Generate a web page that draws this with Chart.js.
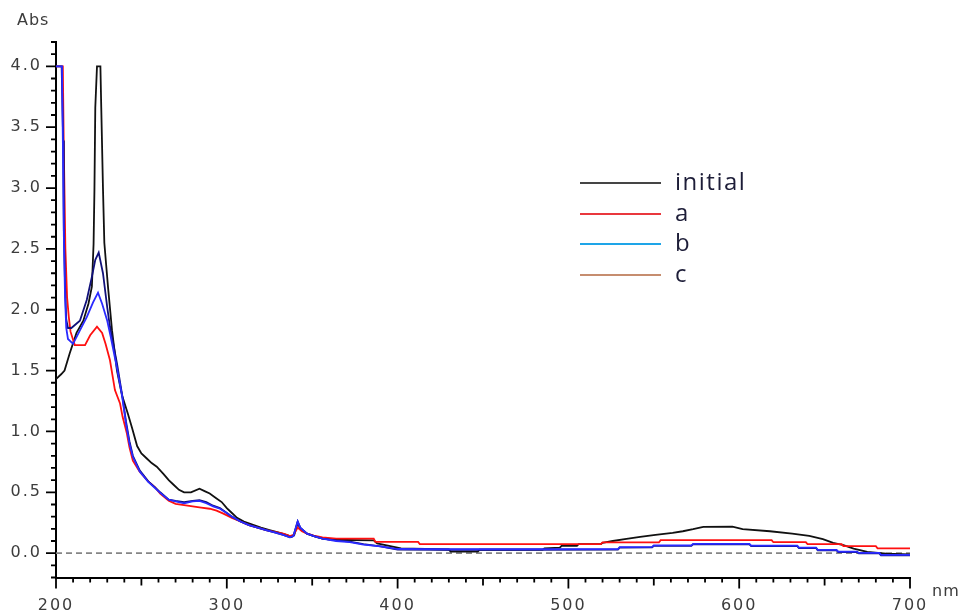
<!DOCTYPE html>
<html>
<head>
<meta charset="utf-8">
<script src="https://cdn.jsdelivr.net/npm/chart.js@4.4.0/dist/chart.umd.min.js"></script>
<style>
  html, body { margin: 0; padding: 0; background: #ffffff; }
  #wrap { width: 959px; height: 615px; position: relative; }
</style>
</head>
<body>
<div id="wrap"><canvas id="spectra" width="959" height="615"></canvas></div>
<script>
// UV-Vis absorbance spectra, [wavelength nm, absorbance]
const seriesNames = ['initial', 'a', 'b', 'c'];

const initialSpectrum = [
  [200,1.43],[203,1.47],[205,1.50],[208,1.64],[212,1.81],[216,1.91],[219,2.05],[221,2.19],
  [222,2.54],[222.5,2.98],[223,3.66],[224,4.0],[226,4.0],[226.5,3.66],[227.5,3.0],[228.3,2.55],
  [229.3,2.38],[230.5,2.18],[232.8,1.83],[235.7,1.50],[238.6,1.30],[242,1.15],[244.5,1.03],
  [247.5,0.88],[250,0.82],[253,0.78],[256,0.74],[259,0.71],[263,0.65],[266,0.60],[269,0.56],
  [272,0.52],[275,0.50],[279,0.50],[284,0.53],[287,0.51],[290,0.49],[294,0.45],[297,0.42],
  [300,0.37],[303,0.33],[306,0.29],[310,0.26],[315,0.235],[320,0.21],[325,0.19],[330,0.17],
  [335,0.15],[338,0.135],[339.5,0.15],[341.5,0.25],[343,0.20],[347,0.16],[351,0.14],[356,0.12],
  [362,0.11],[386,0.105],[388,0.08],[395,0.06],[402,0.04],[430,0.03],[431,0.013],[447,0.013],
  [448,0.028],[485,0.03],[486,0.04],[495,0.045],[496,0.06],[505,0.06],[506,0.074],[519,0.074],
  [520,0.085],[526,0.10],[533,0.115],[542,0.134],[551,0.15],[561,0.167],[567,0.18],[573,0.197],
  [579,0.216],[596,0.218],[602,0.197],[618,0.18],[631,0.16],[641,0.142],[649,0.115],[655,0.085],
  [661,0.066],[667,0.038],[675,0.011],[686,-0.005],[700,-0.01]
];

const spectrumA = [
  [200,4.0],[204,4.0],[204.5,3.39],[205,2.94],[205.5,2.5],[206.5,2.1],[207.5,1.94],[208.5,1.82],
  [211,1.71],[217,1.71],[220,1.79],[224,1.86],[227,1.81],[229,1.72],[231.6,1.585],[234.5,1.34],
  [237.5,1.23],[239,1.12],[241.4,0.99],[243,0.87],[245,0.76],[249,0.67],[254,0.59],[258,0.54],
  [261,0.49],[266,0.43],[270,0.405],[275,0.395],[280,0.385],[285,0.375],[290,0.365],[294,0.35],
  [298,0.325],[303,0.29],[308,0.26],[313,0.23],[318,0.21],[323,0.19],[328,0.175],[333,0.16],
  [337,0.14],[339,0.15],[341.5,0.21],[344,0.18],[347,0.16],[351,0.145],[356,0.13],[364,0.12],
  [386,0.12],[387,0.092],[412,0.092],[413,0.074],[519,0.074],[520,0.088],[553,0.088],[554,0.107],
  [619,0.107],[620,0.09],[639,0.09],[640,0.074],[660,0.074],[661,0.057],[680,0.057],[681,0.04],
  [700,0.04]
];

const spectrumB = [
  [200,4.0],[203.5,4.0],[204,3.4],[204.6,2.6],[205.3,2.1],[206,1.85],[207,1.76],[210,1.72],
  [214,1.83],[218,1.94],[221.7,2.06],[224.6,2.14],[227,2.05],[230,1.91],[232,1.78],[235.7,1.52],
  [238.6,1.30],[241,1.06],[243,0.90],[245,0.79],[249,0.67],[254,0.585],[258,0.535],[261,0.495],
  [266,0.44],[270,0.425],[275,0.41],[280,0.425],[284,0.43],[288,0.41],[292,0.385],[296,0.365],
  [300,0.33],[303,0.30],[308,0.26],[313,0.23],[318,0.21],[323,0.19],[328,0.17],[333,0.15],
  [337,0.13],[339,0.14],[341.5,0.26],[343,0.21],[347,0.16],[351,0.14],[356,0.12],[364,0.10],
  [372,0.09],[380,0.07],[390,0.055],[400,0.034],[430,0.032],[470,0.032],[529,0.034],[530,0.049],
  [549,0.051],[550,0.064],[572,0.064],[573,0.076],[606,0.076],[607,0.062],[634,0.062],[635,0.046],
  [645,0.046],[646,0.027],[657,0.027],[658,0.013],[669,0.013],[670,0.002],[682,0.002],[683,-0.014],
  [700,-0.014]
];

const spectrumC = [
  [200,4.0],[203.3,4.0],[203.8,3.64],[204.2,3.39],[204.6,2.65],[205.3,2.2],[206,1.92],[207,1.85],
  [209,1.85],[214,1.91],[218,2.08],[221,2.27],[223,2.41],[225,2.47],[227.5,2.30],[230,2.02],
  [231.6,1.86],[235.7,1.56],[238.6,1.31],[241,1.08],[243,0.92],[245,0.80],[249,0.68],[254,0.59],
  [258,0.54],[261,0.50],[266,0.44],[270,0.43],[275,0.42],[280,0.43],[284,0.435],[288,0.42],
  [292,0.39],[296,0.37],[300,0.33],[303,0.30],[308,0.26],[313,0.23],[318,0.21],[323,0.19],
  [328,0.17],[333,0.15],[337,0.13],[339,0.14],[341.5,0.26],[343,0.21],[347,0.16],[351,0.14],
  [356,0.12],[364,0.105],[372,0.095],[380,0.075],[390,0.055],[400,0.03],[430,0.028],[470,0.028],
  [529,0.03],[530,0.045],[549,0.047],[550,0.06],[572,0.06],[573,0.072],[606,0.072],[607,0.058],
  [634,0.058],[635,0.042],[645,0.042],[646,0.023],[657,0.023],[658,0.009],[669,0.009],[670,-0.002],
  [682,-0.002],[683,-0.018],[700,-0.018]
];

const xTickLabels = ['200', '300', '400', '500', '600', '700'];
const yTickLabels = ['0.0', '0.5', '1.0', '1.5', '2.0', '2.5', '3.0', '3.5', '4.0'];

// ---- styling ----
const spectra = [initialSpectrum, spectrumA, spectrumB, spectrumC];
const lineColors = ['#111111', '#ff1010', '#2a2aff', '#10107a'];
const drawOrder = [3, 2, 0, 1];
const legendStyle = {
  colors: ['#454545', '#e9383e', '#1ea5e8', '#c68d6f'],
  rows: [183, 214, 244, 275],
  lineFrom: 580, lineTo: 661, textX: 675,
  font: '24px "Open Sans", sans-serif', textColor: '#1d1d38', spacing: '1.5px'
};
const tickFont = { family: 'DejaVu Sans', size: 16 };
const tickColor = '#3c3c3c';
const tickSpacing = '2px';

const toPoints = s => s.map(([x, y]) => ({ x, y }));

// axis titles, minor/major tick marks, zero reference line, legend
const decorations = {
  id: 'decorations',
  beforeDraw(chart) {
    // widen the axis tick labels a little
    chart.ctx.letterSpacing = tickSpacing;
  },
  beforeDatasetsDraw(chart) {
    const { ctx, chartArea, scales: { y } } = chart;
    const y0 = y.getPixelForValue(0);
    ctx.save();
    ctx.strokeStyle = '#858585';
    ctx.lineWidth = 1.8;
    ctx.setLineDash([6, 4]);
    ctx.beginPath();
    ctx.moveTo(chartArea.left, y0);
    ctx.lineTo(chartArea.right, y0);
    ctx.stroke();
    ctx.restore();
  },
  afterDraw(chart) {
    const { ctx, chartArea, scales: { x, y } } = chart;
    ctx.save();
    ctx.strokeStyle = '#000';
    ctx.lineWidth = 1.8;
    ctx.beginPath();
    for (let i = Math.round(y.min * 10); i <= Math.round(y.max * 10); i++) {
      const py = y.getPixelForValue(i / 10);
      const len = i % 5 === 0 ? 10 : 5;
      ctx.moveTo(chartArea.left - len, py);
      ctx.lineTo(chartArea.left, py);
    }
    for (let nm = x.min; nm <= x.max; nm += 10) {
      const px = x.getPixelForValue(nm);
      const len = nm % 100 === 0 ? 11 : (nm % 50 === 0 ? 8 : 5);
      ctx.moveTo(px, chartArea.bottom);
      ctx.lineTo(px, chartArea.bottom + len);
    }
    ctx.stroke();

    // axis units
    ctx.fillStyle = tickColor;
    ctx.letterSpacing = '1px';
    ctx.font = '16px "DejaVu Sans", sans-serif';
    ctx.textBaseline = 'middle';
    ctx.textAlign = 'left';
    ctx.fillText('Abs', 17, 21);
    ctx.fillText('nm', 932, 592);

    // legend
    ctx.letterSpacing = legendStyle.spacing;
    chart.data.datasets.forEach((ds, i) => {
      const ry = legendStyle.rows[i];
      ctx.strokeStyle = legendStyle.colors[i];
      ctx.lineWidth = 2;
      ctx.beginPath();
      ctx.moveTo(legendStyle.lineFrom, ry);
      ctx.lineTo(legendStyle.lineTo, ry);
      ctx.stroke();
      ctx.fillStyle = legendStyle.textColor;
      ctx.font = legendStyle.font;
      ctx.textBaseline = 'middle';
      ctx.fillText(ds.label, legendStyle.textX, ry);
    });
    ctx.restore();
    ctx.letterSpacing = '0px';
  }
};

new Chart(document.getElementById('spectra'), {
  type: 'line',
  data: {
    datasets: seriesNames.map((name, i) => ({
      label: name,
      data: toPoints(spectra[i]),
      borderColor: lineColors[i],
      borderWidth: 1.8,
      pointRadius: 0,
      tension: 0,
      order: drawOrder[i]
    }))
  },
  options: {
    responsive: false,
    devicePixelRatio: 1,
    animation: false,
    layout: { padding: { top: 42, right: 49, left: 0, bottom: 0 } },
    plugins: { legend: { display: false }, tooltip: { enabled: false } },
    scales: {
      x: {
        type: 'linear',
        min: 200,
        max: 700,
        afterBuildTicks: s => { s.ticks = xTickLabels.map(t => ({ value: parseFloat(t) })); },
        afterFit: s => { s.height = 37.5; },
        grid: { display: false, drawTicks: false },
        border: { display: true, color: '#000', width: 2 },
        ticks: {
          autoSkip: false, maxRotation: 0, padding: 19,
          font: tickFont, color: tickColor,
          callback: v => xTickLabels.find(t => parseFloat(t) === v) ?? ''
        }
      },
      y: {
        type: 'linear',
        min: -0.2,
        max: 4.2,
        afterBuildTicks: s => { s.ticks = yTickLabels.map(t => ({ value: parseFloat(t) })); },
        afterFit: s => { s.width = 56; },
        grid: { display: false, drawTicks: false },
        border: { display: true, color: '#000', width: 2 },
        ticks: {
          autoSkip: false, padding: 14,
          font: tickFont, color: tickColor,
          callback: v => yTickLabels.find(t => parseFloat(t) === v) ?? ''
        }
      }
    }
  },
  plugins: [decorations]
});
</script>
</body>
</html>
